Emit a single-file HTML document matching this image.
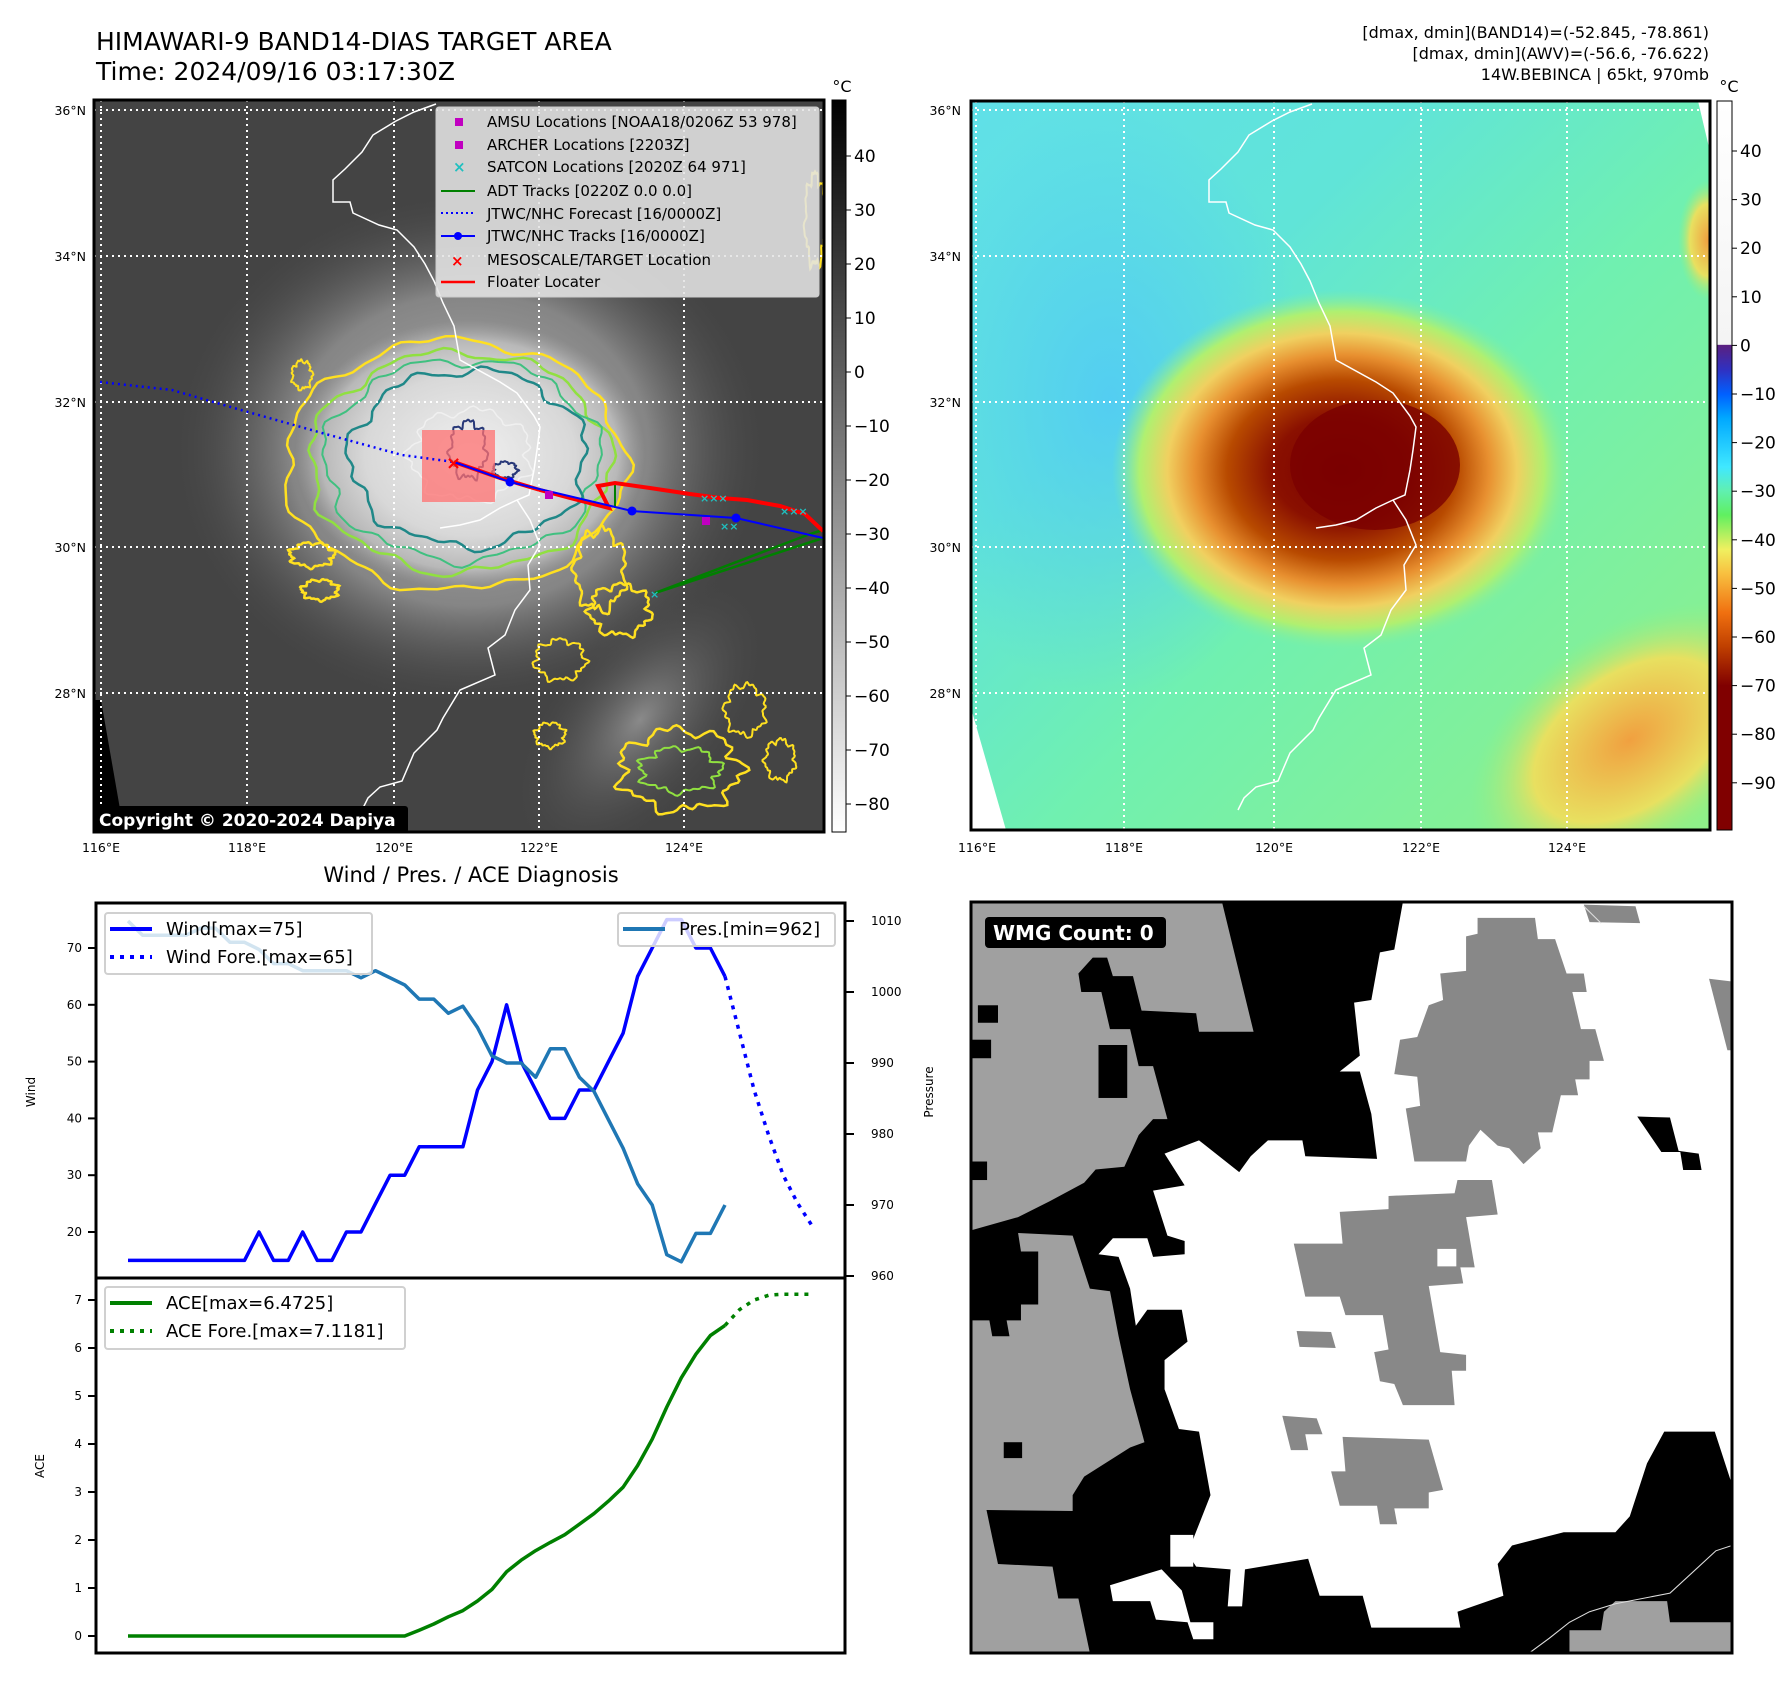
<!DOCTYPE html>
<html><head><meta charset="utf-8">
<style>
html,body{margin:0;padding:0;background:#fff;}
body{width:1788px;height:1690px;position:relative;overflow:hidden;font-family:"DejaVu Sans","Liberation Sans",sans-serif;}
svg{position:absolute;left:0;top:0;}
</style></head>
<body>
<svg id="main" width="1788" height="1690" viewBox="0 0 1788 1690" xmlns="http://www.w3.org/2000/svg" font-family="DejaVu Sans, Liberation Sans, sans-serif">
<defs>
 <radialGradient id="haze" cx="0.5" cy="0.5" r="0.5">
  <stop offset="0" stop-color="#b0b0b0"/><stop offset="0.6" stop-color="#858585"/><stop offset="1" stop-color="#444" stop-opacity="0"/>
 </radialGradient>
 <radialGradient id="core" cx="0.5" cy="0.5" r="0.5">
  <stop offset="0" stop-color="#f0f0f0"/><stop offset="0.6" stop-color="#d8d8d8"/><stop offset="0.85" stop-color="#b8b8b8"/><stop offset="1" stop-color="#a0a0a0" stop-opacity="0"/>
 </radialGradient>
 <radialGradient id="band" cx="0.5" cy="0.5" r="0.5">
  <stop offset="0" stop-color="#8a8a8a"/><stop offset="1" stop-color="#444" stop-opacity="0"/>
 </radialGradient>
 <linearGradient id="cbGray" x1="0" y1="0" x2="0" y2="1">
  <stop offset="0" stop-color="#000"/><stop offset="1" stop-color="#fff"/>
 </linearGradient>
 <linearGradient id="cbColor" x1="0" y1="0" x2="0" y2="1">
  <stop offset="0" stop-color="#ffffff"/><stop offset="0.334" stop-color="#f4f4f4"/>
  <stop offset="0.335" stop-color="#5a2080"/><stop offset="0.368" stop-color="#3030c0"/>
  <stop offset="0.402" stop-color="#0060ff"/><stop offset="0.435" stop-color="#00a8ff"/>
  <stop offset="0.502" stop-color="#40e8ff"/><stop offset="0.535" stop-color="#60f0b0"/>
  <stop offset="0.568" stop-color="#60f060"/><stop offset="0.615" stop-color="#f0f060"/>
  <stop offset="0.648" stop-color="#f8c040"/><stop offset="0.702" stop-color="#f07010"/>
  <stop offset="0.748" stop-color="#c04000"/><stop offset="0.802" stop-color="#800000"/>
  <stop offset="1" stop-color="#800000"/>
 </linearGradient>
 <linearGradient id="awvBase" x1="0" y1="0" x2="1" y2="1">
  <stop offset="0" stop-color="#60e0e8"/><stop offset="0.3" stop-color="#60e4d8"/><stop offset="0.55" stop-color="#70f0b0"/><stop offset="1" stop-color="#90f088"/>
 </linearGradient>
 <radialGradient id="storm" cx="0.5" cy="0.5" r="0.5">
  <stop offset="0" stop-color="#7a0000"/><stop offset="0.3" stop-color="#8a1000"/>
  <stop offset="0.5" stop-color="#b84a00"/><stop offset="0.64" stop-color="#e89030"/>
  <stop offset="0.76" stop-color="#f0d060"/><stop offset="0.88" stop-color="#b0f070"/>
  <stop offset="1" stop-color="#80f0a0" stop-opacity="0"/>
 </radialGradient>
 <radialGradient id="seBand" cx="0.5" cy="0.5" r="0.5">
  <stop offset="0" stop-color="#f0a040"/><stop offset="0.6" stop-color="#e8e060"/><stop offset="1" stop-color="#90f080" stop-opacity="0"/>
 </radialGradient>
 <radialGradient id="blueArea" cx="0.5" cy="0.5" r="0.5">
  <stop offset="0" stop-color="#50c8f8"/><stop offset="1" stop-color="#50c8f8" stop-opacity="0"/>
 </radialGradient>
 <clipPath id="clipL"><rect x="94" y="100" width="730" height="732"/></clipPath>
 <clipPath id="clipR"><rect x="971" y="101" width="739" height="729"/></clipPath>
 <clipPath id="clipW"><rect x="971" y="902" width="761" height="751"/></clipPath>
</defs>

<g>
 <text x="96" y="50" font-size="25">HIMAWARI-9 BAND14-DIAS TARGET AREA</text>
 <text x="96" y="80" font-size="25">Time: 2024/09/16 03:17:30Z</text>
</g>
<g id="irmap" clip-path="url(#clipL)">
 <rect x="94" y="100" width="730" height="732" fill="#444"/>
 <ellipse cx="470" cy="450" rx="300" ry="260" fill="url(#haze)"/>
 <ellipse cx="640" cy="720" rx="170" ry="90" fill="url(#band)" transform="rotate(-50 640 720)"/>
 <ellipse cx="470" cy="455" rx="175" ry="135" fill="url(#core)"/>
 <polygon points="94,700 101,700 124,832 94,832" fill="#000"/>
 <g id="contours"></g>
 <path id="coastL" d="M436,104 L414,112 L396,121 L373,135 L362,152 L345,169 L333,180 L333,202 L350,202 L353,213 L379,225 L397,230 L414,247 L425,264 L434,281 L443,303 L454,326 L457,343 L460,360 L500,382 L517,393 L534,416 L540,427 L537,450 L534,470 L529,495 L517,500 L500,508 L480,520 L460,525 L440,528 M517,500 L530,520 L540,545 L528,565 L530,590 L515,610 L505,635 L488,648 L495,675 L460,690 L443,718 L437,730 L414,753 L402,781 L380,787 L368,798 L362,810" fill="none" stroke="#fff" stroke-width="1.5"/>
 <g stroke="#fff" stroke-width="2" stroke-dasharray="2,4">
  <line x1="101" y1="100" x2="101" y2="832"/><line x1="247" y1="100" x2="247" y2="832"/><line x1="394" y1="100" x2="394" y2="832"/><line x1="539" y1="100" x2="539" y2="832"/><line x1="684" y1="100" x2="684" y2="832"/>
  <line x1="94" y1="110" x2="824" y2="110"/><line x1="94" y1="256" x2="824" y2="256"/><line x1="94" y1="402" x2="824" y2="402"/><line x1="94" y1="547" x2="824" y2="547"/><line x1="94" y1="693" x2="824" y2="693"/>
 </g>
 <rect x="422" y="430" width="73" height="72" fill="#ff7070" opacity="0.75"/>
 <polyline points="100,382 172,390 241,410 322,433 402,455 454,462" fill="none" stroke="#0000ff" stroke-width="2.5" stroke-dasharray="2,4"/>
 <polyline points="655,593 823,538" fill="none" stroke="#008000" stroke-width="2.5"/>
 <polyline points="655,593 810,534 823,530" fill="none" stroke="#008000" stroke-width="2.5"/>
 <line x1="615" y1="483" x2="615" y2="508" stroke="#008000" stroke-width="2"/>
 <polyline points="454,462 500,478 540,490 570,498 609,508 598,486 615,483 650,488 690,494 720,498 747,500 780,506 805,514 823,531" fill="none" stroke="#ff0000" stroke-width="4"/>
 <polyline points="454,462 510,482 632,511 736,518 823,538" fill="none" stroke="#0000ff" stroke-width="2"/>
 <g fill="#0000ff"><circle cx="510" cy="482" r="4.5"/><circle cx="632" cy="511" r="4.5"/><circle cx="736" cy="518" r="4.5"/></g>
 <g fill="#20c0c0" font-size="11" font-weight="bold"><text x="700" y="502">×××</text><text x="720" y="530">××</text><text x="650" y="598">×</text><text x="780" y="515">×××</text></g>
 <rect x="702" y="517" width="8" height="8" fill="#c000c0"/><rect x="545" y="491" width="8" height="8" fill="#c000c0"/>
 <text x="446" y="469" font-size="18" font-weight="bold" fill="#ff0000">×</text>
</g>
<rect x="94" y="100" width="730" height="732" fill="none" stroke="#000" stroke-width="3"/>
<g>
 <rect x="436" y="107" width="383" height="190" fill="#e4e4e4" fill-opacity="0.88" stroke="#ccc" rx="3"/>
 <g font-size="15" fill="#000">
  <rect x="455" y="118" width="8" height="8" fill="#c000c0"/><text x="487" y="127">AMSU Locations [NOAA18/0206Z 53 978]</text>
  <rect x="455" y="141" width="8" height="8" fill="#c000c0"/><text x="487" y="150">ARCHER Locations [2203Z]</text>
  <text x="453" y="172" fill="#20c0c0" font-weight="bold">×</text><text x="487" y="172">SATCON Locations [2020Z 64 971]</text>
  <line x1="441" y1="191" x2="475" y2="191" stroke="#008000" stroke-width="2"/><text x="487" y="196">ADT Tracks [0220Z 0.0 0.0]</text>
  <line x1="441" y1="213" x2="475" y2="213" stroke="#0000ff" stroke-width="2" stroke-dasharray="2,3"/><text x="487" y="219">JTWC/NHC Forecast [16/0000Z]</text>
  <line x1="441" y1="236" x2="475" y2="236" stroke="#0000ff" stroke-width="2"/><circle cx="458" cy="236" r="4" fill="#0000ff"/><text x="487" y="241">JTWC/NHC Tracks [16/0000Z]</text>
  <text x="451" y="266" fill="#ff0000" font-weight="bold">×</text><text x="487" y="265">MESOSCALE/TARGET Location</text>
  <line x1="441" y1="282" x2="475" y2="282" stroke="#ff0000" stroke-width="2.5"/><text x="487" y="287">Floater Locater</text>
 </g>
</g>
<g>
 <rect x="93" y="806" width="315" height="27" rx="3" fill="#000"/>
 <text x="99" y="826" font-size="17" font-weight="bold" fill="#fff">Copyright © 2020-2024 Dapiya</text>
</g>
<g font-size="12.5" fill="#000">
 <text x="86" y="115" text-anchor="end">36°N</text><text x="86" y="261" text-anchor="end">34°N</text><text x="86" y="407" text-anchor="end">32°N</text><text x="86" y="552" text-anchor="end">30°N</text><text x="86" y="698" text-anchor="end">28°N</text>
 <text x="101" y="852" text-anchor="middle">116°E</text><text x="247" y="852" text-anchor="middle">118°E</text><text x="394" y="852" text-anchor="middle">120°E</text><text x="539" y="852" text-anchor="middle">122°E</text><text x="684" y="852" text-anchor="middle">124°E</text>
</g>
<g>
 <rect x="832" y="100" width="14" height="732" fill="url(#cbGray)" stroke="#000" stroke-width="1"/>
 <text x="842" y="92" font-size="16" text-anchor="middle">°C</text>
 <g id="cbLticks" font-size="17"></g>
</g>

<g font-size="16" text-anchor="end">
 <text x="1709" y="38">[dmax, dmin](BAND14)=(-52.845, -78.861)</text>
 <text x="1709" y="59">[dmax, dmin](AWV)=(-56.6, -76.622)</text>
 <text x="1709" y="80">14W.BEBINCA | 65kt, 970mb</text>
</g>
<g clip-path="url(#clipR)">
 <rect x="971" y="101" width="739" height="729" fill="url(#awvBase)"/>
 <ellipse cx="1110" cy="400" rx="200" ry="300" fill="url(#blueArea)" opacity="0.8"/>
 <ellipse cx="1630" cy="740" rx="180" ry="110" fill="url(#seBand)" transform="rotate(-35 1630 740)"/>
 <ellipse cx="1708" cy="240" rx="30" ry="60" fill="url(#seBand)"/>
 <ellipse cx="1342" cy="470" rx="230" ry="180" fill="url(#storm)"/>
 <ellipse cx="1375" cy="465" rx="85" ry="65" fill="#7a0000" opacity="0.8"/>
 <polygon points="971,708 1006,830 971,830" fill="#fff"/>
 <polygon points="1698,101 1712,101 1712,160" fill="#fff"/>
 <use href="#coastL" transform="translate(876,0)"/>
 <g stroke="#fff" stroke-width="2" stroke-dasharray="2,4">
  <line x1="976" y1="101" x2="976" y2="830"/><line x1="1124" y1="101" x2="1124" y2="830"/><line x1="1274" y1="101" x2="1274" y2="830"/><line x1="1421" y1="101" x2="1421" y2="830"/><line x1="1567" y1="101" x2="1567" y2="830"/>
  <line x1="971" y1="110" x2="1710" y2="110"/><line x1="971" y1="256" x2="1710" y2="256"/><line x1="971" y1="402" x2="1710" y2="402"/><line x1="971" y1="547" x2="1710" y2="547"/><line x1="971" y1="693" x2="1710" y2="693"/>
 </g>
</g>
<rect x="971" y="101" width="739" height="729" fill="none" stroke="#000" stroke-width="3"/>
<g font-size="12.5">
 <text x="961" y="115" text-anchor="end">36°N</text><text x="961" y="261" text-anchor="end">34°N</text><text x="961" y="407" text-anchor="end">32°N</text><text x="961" y="552" text-anchor="end">30°N</text><text x="961" y="698" text-anchor="end">28°N</text>
 <text x="977" y="852" text-anchor="middle">116°E</text><text x="1124" y="852" text-anchor="middle">118°E</text><text x="1274" y="852" text-anchor="middle">120°E</text><text x="1421" y="852" text-anchor="middle">122°E</text><text x="1567" y="852" text-anchor="middle">124°E</text>
</g>
<g>
 <rect x="1717" y="101" width="15" height="729" fill="url(#cbColor)" stroke="#000" stroke-width="1"/>
 <text x="1729" y="92" font-size="16" text-anchor="middle">°C</text>
 <g id="cbRticks" font-size="17"></g>
</g>

<text x="471" y="882" font-size="21" text-anchor="middle">Wind / Pres. / ACE Diagnosis</text>
<g id="chart"></g>

<g clip-path="url(#clipW)">
 <svg x="971" y="902" width="761" height="751" viewBox="123 80 1325 1418" preserveAspectRatio="none">
  <rect x="123" y="80" width="1325" height="1418" fill="#000"/>
  <polygon fill="#a0a0a0" points="123,80 560,80 615,325 520,325 515,290 420,285 405,220 370,220 360,185 335,185 310,215 315,250 350,250 365,320 400,320 415,390 440,390 465,490 440,490 415,520 390,580 340,585 320,610 260,645 205,675 123,700"/>
  <polygon fill="#a0a0a0" points="123,870 155,870 160,900 190,900 185,870 210,870 210,840 240,840 240,740 210,740 205,705 300,710 330,810 365,815 380,900 400,1000 425,1100 400,1110 320,1165 300,1200 300,1230 150,1228 160,1280 170,1330 265,1335 275,1395 310,1395 330,1498 123,1498"/>
  <g fill="#000"><rect x="135" y="275" width="35" height="33"/><rect x="345" y="350" width="50" height="100"/><rect x="180" y="1100" width="32" height="30"/><rect x="123" y="340" width="35" height="35"/><rect x="123" y="570" width="28" height="35"/></g>
  <polygon fill="#fff" points="875,80 1448,80 1448,1180 1418,1080 1330,1080 1300,1140 1270,1240 1245,1270 1155,1270 1065,1295 1040,1330 1050,1390 970,1420 975,1450 820,1450 805,1390 730,1390 710,1320 600,1340 595,1410 570,1410 575,1340 515,1335 500,1310 540,1200 520,1080 485,1075 460,1000 460,945 500,910 490,850 430,850 410,880 400,810 380,750 345,745 370,715 430,715 440,750 495,745 495,720 465,710 440,625 495,615 460,555 520,530 590,590 610,560 640,530 700,530 705,560 830,565 820,480 800,400 765,400 800,370 790,270 820,265 835,175 860,170"/>
  <polygon fill="#fff" points="365,1370 455,1340 490,1380 505,1440 545,1440 545,1472 510,1472 500,1440 445,1435 435,1400 370,1400"/>
  <rect x="470" y="1275" width="40" height="60" fill="#fff"/>
  <polygon fill="#888" points="1005,110 1105,110 1110,150 1140,150 1160,215 1190,215 1195,250 1170,250 1185,320 1210,320 1225,380 1200,380 1200,415 1175,415 1180,445 1150,445 1135,515 1110,515 1115,545 1085,575 1060,545 1040,540 1010,510 990,540 985,570 895,570 880,470 905,465 900,410 860,405 870,340 900,335 920,275 945,265 940,215 985,210 985,145 1005,140"/>
  <polygon fill="#888" points="850,635 965,630 970,605 1030,605 1040,670 985,675 1000,770 975,770 980,800 920,805 940,930 985,935 985,965 960,965 965,1030 875,1030 860,990 835,985 825,930 850,925 840,860 775,860 765,825 705,825 685,725 770,725 765,665 850,660"/>
  <rect x="935" y="735" width="33" height="33" fill="#fff"/>
  <polygon fill="#888" points="770,1090 920,1095 945,1190 920,1195 920,1225 860,1225 865,1255 835,1255 830,1220 765,1220 750,1155 775,1155"/>
  <polygon fill="#888" points="690,890 750,892 758,922 695,920"/>
  <polygon fill="#888" points="665,1050 725,1055 735,1085 705,1085 710,1115 680,1115"/>
  <polygon fill="#888" points="1190,85 1280,88 1288,120 1200,118"/>
  <polygon fill="#888" points="1408,225 1448,230 1448,360 1440,360"/>
  <polygon fill="#a0a0a0" points="1165,1455 1220,1455 1225,1420 1245,1400 1335,1400 1340,1440 1448,1440 1448,1498 1165,1498"/>
  <polygon fill="#000" points="1283,485 1340,487 1355,550 1390,555 1395,586 1363,586 1358,552 1325,552"/>
  <polyline points="1095,1498 1130,1470 1165,1440 1200,1420 1245,1405 1340,1385 1380,1345 1420,1305 1448,1295" fill="none" stroke="#ddd" stroke-width="2"/>
  <polyline points="1190,88 1220,120" fill="none" stroke="#ddd" stroke-width="2"/>
 </svg>
</g>
<rect x="971" y="902" width="761" height="751" fill="none" stroke="#000" stroke-width="3"/>
<g>
 <rect x="985" y="917" width="181" height="31" rx="4" fill="#000"/>
 <text x="993" y="940" font-size="20" font-weight="bold" fill="#fff">WMG Count: 0</text>
</g>
<text x="0" y="0" font-size="12" transform="translate(933,1092) rotate(-90)" text-anchor="middle">Pressure</text>
</svg>

<script>
const obsIdx = [0,1,2,3,4,5,6,7,8,9,10,11,12,13,14,15,16,17,18,19,20,21,22,23,24,25,26,27,28,29,30,31,32,33,34,35,36,37,38,39,40,41];
const windObs = [15,15,15,15,15,15,15,15,15,20,15,15,20,15,15,20,20,25,30,30,35,35,35,35,45,50,60,50,45,40,40,45,45,50,55,65,70,75,75,70,70,65];
const presObs = [1010,1008,1008,1008,1008,1009,1009,1007,1007,1006,1004,1004,1003,1003,1003,1003,1002,1003,1002,1001,999,999,997,998,995,991,990,990,988,992,992,988,986,982,978,973,970,963,962,966,966,970];
const aceObs = [0,0,0,0,0,0,0,0,0,0,0,0,0,0,0,0,0,0,0,0,0.12,0.25,0.4,0.53,0.73,0.97,1.34,1.58,1.78,1.95,2.11,2.33,2.55,2.81,3.1,3.55,4.1,4.77,5.38,5.87,6.26,6.47];
const foreIdx = [41,42,43,44,45,46,47];
const windFore = [65,55,45,37,30,25,21];
const aceFore = [6.47,6.8,7.0,7.1,7.12,7.12,7.12];
const windTicks = [20,30,40,50,60,70];
const presTicks = [960,970,980,990,1000,1010];
const aceTicks = [0,1,2,3,4,5,6,7];
const cbLTicks = [40,30,20,10,0,-10,-20,-30,-40,-50,-60,-70,-80];
const cbRTicks = [40,30,20,10,0,-10,-20,-30,-40,-50,-60,-70,-80,-90];

const NS='http://www.w3.org/2000/svg';
function mk(tag, attrs, parent){const e=document.createElementNS(NS,tag);for(const k in attrs)e.setAttribute(k,attrs[k]);parent.appendChild(e);return e;}
const xS = i => 128 + i*(725-128)/41;
const yW = w => 1232 - (w-20)*5.68;
const yP = p => 1276 - (p-960)*7.1;
const yA = a => 1636 - a*48;

const chart=document.getElementById('chart');
let f1=mk('rect',{x:96,y:903,width:749,height:375,fill:'none',stroke:'#000','stroke-width':3},chart);


let f2=mk('rect',{x:96,y:1278,width:749,height:375,fill:'none',stroke:'#000','stroke-width':3},chart);



windTicks.forEach(v=>{
 const y=yW(v);
 mk('line',{x1:88,y1:y,x2:96,y2:y,stroke:'#000','stroke-width':2},chart);
 const t=mk('text',{x:82,y:y+4,'font-size':12,'text-anchor':'end'},chart);t.textContent=v;
 
 
});
presTicks.forEach(v=>{
 const y=yP(v);
 mk('line',{x1:845,y1:y,x2:854,y2:y,stroke:'#000','stroke-width':2},chart);
 const t=mk('text',{x:871,y:y+4,'font-size':12},chart);t.textContent=v;
 
 
});
aceTicks.forEach(v=>{
 const y=yA(v);
 mk('line',{x1:88,y1:y,x2:96,y2:y,stroke:'#000','stroke-width':2},chart);
 const t=mk('text',{x:82,y:y+4,'font-size':12,'text-anchor':'end'},chart);t.textContent=v;
 
 
});
let wl=mk('text',{x:0,y:0,'font-size':12,'text-anchor':'middle',transform:'translate(35,1092) rotate(-90)'},chart);wl.textContent='Wind';


let al=mk('text',{x:0,y:0,'font-size':12,'text-anchor':'middle',transform:'translate(44,1466) rotate(-90)'},chart);al.textContent='ACE';



function pts(idx, vals, yf){return idx.map((i,k)=>xS(i).toFixed(1)+','+yf(vals[k]).toFixed(1)).join(' ');}
let l;
l=mk('polyline',{points:pts(obsIdx,aceObs,yA),fill:'none',stroke:'#008000','stroke-width':3.5,'stroke-linejoin':'round'},chart);


l=mk('polyline',{points:pts(foreIdx,aceFore,yA),fill:'none',stroke:'#008000','stroke-width':3.5,'stroke-dasharray':'4,6'},chart);


l=mk('polyline',{points:pts(obsIdx,windObs,yW),fill:'none',stroke:'#0000ff','stroke-width':3.5,'stroke-linejoin':'round'},chart);


l=mk('polyline',{points:pts(foreIdx,windFore,yW),fill:'none',stroke:'#0000ff','stroke-width':3.5,'stroke-dasharray':'4,6'},chart);


l=mk('polyline',{points:pts(obsIdx,presObs,yP),fill:'none',stroke:'#1f77b4','stroke-width':3.5,'stroke-linejoin':'round'},chart);



function legend(name,x,y,w,h,rows){
 const g=mk('g',{},chart);
 
 
 mk('rect',{x:x,y:y,width:w,height:h,rx:3,fill:'#fff','fill-opacity':0.8,stroke:'#d0d0d0','stroke-width':2},g);
 rows.forEach(r=>{
  mk('line',{x1:r.x1,y1:r.y,x2:r.x1+42,y2:r.y,stroke:r.c,'stroke-width':4,'stroke-dasharray':r.d||'none'},g);
  const t=mk('text',{x:r.x1+56,y:r.y+6,'font-size':18},g);t.textContent=r.t;
 });
}
legend('wind-legend',105,913,267,61,[{x1:110,y:929,c:'#0000ff',t:'Wind[max=75]'},{x1:110,y:957,c:'#0000ff',d:'4,6',t:'Wind Fore.[max=65]'}]);
legend('pressure-legend',618,913,217,33,[{x1:623,y:929,c:'#1f77b4',t:'Pres.[min=962]'}]);
legend('ace-legend',105,1287,300,62,[{x1:110,y:1303,c:'#008000',t:'ACE[max=6.4725]'},{x1:110,y:1331,c:'#008000',d:'4,6',t:'ACE Fore.[max=7.1181]'}]);

const gl=document.getElementById('cbLticks');
cbLTicks.forEach(v=>{const y=156+(40-v)*5.4;mk('line',{x1:846,y1:y,x2:851,y2:y,stroke:'#000'},gl);const t=mk('text',{x:854,y:y+6},gl);t.textContent=v<0?'\u2212'+(-v):v;});
const gr=document.getElementById('cbRticks');
cbRTicks.forEach(v=>{const y=151+(40-v)*4.86;mk('line',{x1:1732,y1:y,x2:1737,y2:y,stroke:'#000'},gr);const t=mk('text',{x:1740,y:y+6},gr);t.textContent=v<0?'\u2212'+(-v):v;});

const cg=document.getElementById('contours');
function ring(cx,cy,rx,ry,col,sw,amp,seed){
 let d='';for(let k=0;k<=120;k++){const a=k/120*Math.PI*2;const r=1+amp*(Math.sin(a*7+seed)*0.5+Math.sin(a*13+seed*2)*0.3+Math.sin(a*23+seed)*0.2);
 d+=(k?'L':'M')+(cx+rx*r*Math.cos(a)).toFixed(1)+','+(cy+ry*r*Math.sin(a)).toFixed(1);}
 mk('path',{d:d+'Z',fill:'none',stroke:col,'stroke-width':sw},cg);
}
ring(455,465,170,125,'#ffe020',2.5,0.06,1);
ring(460,462,150,110,'#90e040',2.5,0.07,2);
ring(462,460,138,100,'#40c080',2,0.08,3);
ring(468,458,118,88,'#208888',2.5,0.09,4);
ring(470,455,60,45,'#f0f0f0',1.5,0.15,5);
ring(468,450,18,28,'#283878',2,0.2,6);
ring(505,470,12,8,'#283878',2,0.2,7);
ring(302,375,10,14,'#ffe020',2,0.2,8);
ring(312,555,22,12,'#ffe020',2.5,0.2,9);
ring(320,590,18,10,'#ffe020',2.5,0.2,10);
ring(600,570,25,40,'#ffe020',2.5,0.2,11);
ring(620,610,30,25,'#ffe020',2.5,0.2,12);
ring(560,660,25,20,'#ffe020',2,0.2,13);
ring(680,770,60,40,'#ffe020',2.5,0.2,14);
ring(680,770,40,22,'#90e040',2,0.2,15);
ring(550,735,15,12,'#ffe020',2,0.2,16);
ring(745,710,20,25,'#ffe020',2,0.2,17);
ring(780,760,15,20,'#ffe020',2,0.2,18);
ring(815,220,10,45,'#ffe020',2,0.2,19);
</script>
</body></html>
